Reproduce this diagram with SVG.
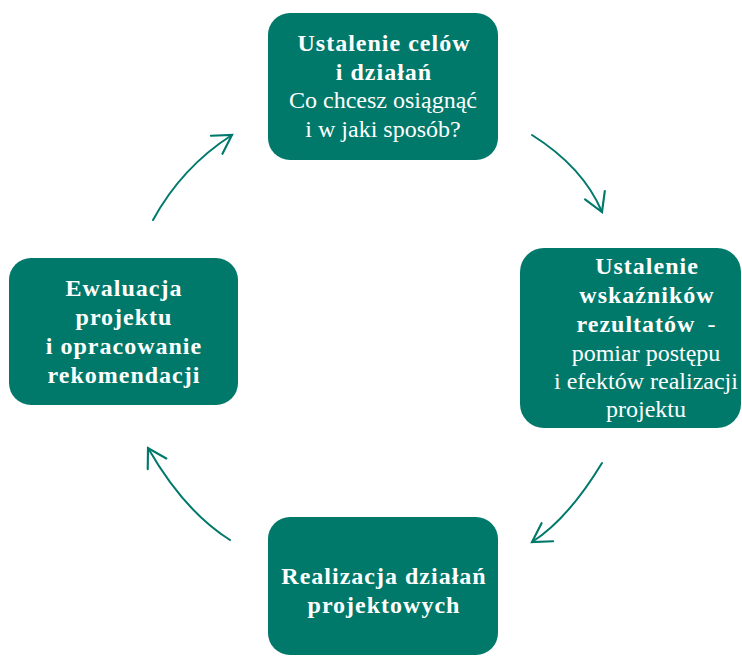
<svg xmlns="http://www.w3.org/2000/svg" width="742" height="657" viewBox="0 0 742 657">
<style>
.box{fill:#00796b}
.t{font-family:"Liberation Serif","Times New Roman",serif;font-size:24px;fill:#ffffff;text-anchor:middle}
.b{font-weight:bold;letter-spacing:1px}
.c{fill:none;stroke:#00796b;stroke-width:2;stroke-linecap:round}
</style>
<defs>
<marker id="ah" markerUnits="userSpaceOnUse" markerWidth="30" markerHeight="30" viewBox="-20 -14 24 28" refX="0" refY="0" orient="auto" overflow="visible">
<path d="M-17,-10 L0,0 L-17,10" fill="none" stroke="#00796b" stroke-width="2" stroke-linecap="round" stroke-linejoin="miter"/>
</marker>
</defs>
<rect width="742" height="657" fill="#ffffff"/>
<g id="connectors">
<path class="c" d="M153,220 Q182,167 232,135" marker-end="url(#ah)"/>
<path class="c" d="M532,135 Q583,167 602,212" marker-end="url(#ah)"/>
<path class="c" d="M602,463 Q568,519 532,542" marker-end="url(#ah)"/>
<path class="c" d="M230,540 Q184,511 148,448" marker-end="url(#ah)"/>
</g>
<g id="node-cele">
<rect class="box" x="268" y="13" width="230" height="147" rx="22"/>
<text class="t b" x="384" y="51">Ustalenie celów</text>
<text class="t b" x="384" y="80">i działań</text>
<text class="t" x="383" y="108">Co chcesz osiągnąć</text>
<text class="t" x="383" y="137">i w jaki sposób?</text>
</g>
<g id="node-wskazniki">
<rect class="box" x="520" y="248" width="221" height="180" rx="24"/>
<text class="t b" x="647" y="274">Ustalenie</text>
<text class="t b" x="647" y="303">wskaźników</text>
<text class="t" x="646" y="332"><tspan class="b">rezultatów</tspan>&#160; -</text>
<text class="t" x="646" y="361">pomiar postępu</text>
<text class="t" x="646" y="389">i efektów realizacji</text>
<text class="t" x="646" y="417">projektu</text>
</g>
<g id="node-realizacja">
<rect class="box" x="268" y="517" width="230" height="138" rx="22"/>
<text class="t b" x="384" y="584">Realizacja działań</text>
<text class="t b" x="384" y="613">projektowych</text>
</g>
<g id="node-ewaluacja">
<rect class="box" x="9" y="258" width="229" height="147" rx="22"/>
<text class="t b" x="124" y="296">Ewaluacja</text>
<text class="t b" x="124" y="325">projektu</text>
<text class="t b" x="124" y="354">i opracowanie</text>
<text class="t b" x="124" y="383">rekomendacji</text>
</g>
</svg>
